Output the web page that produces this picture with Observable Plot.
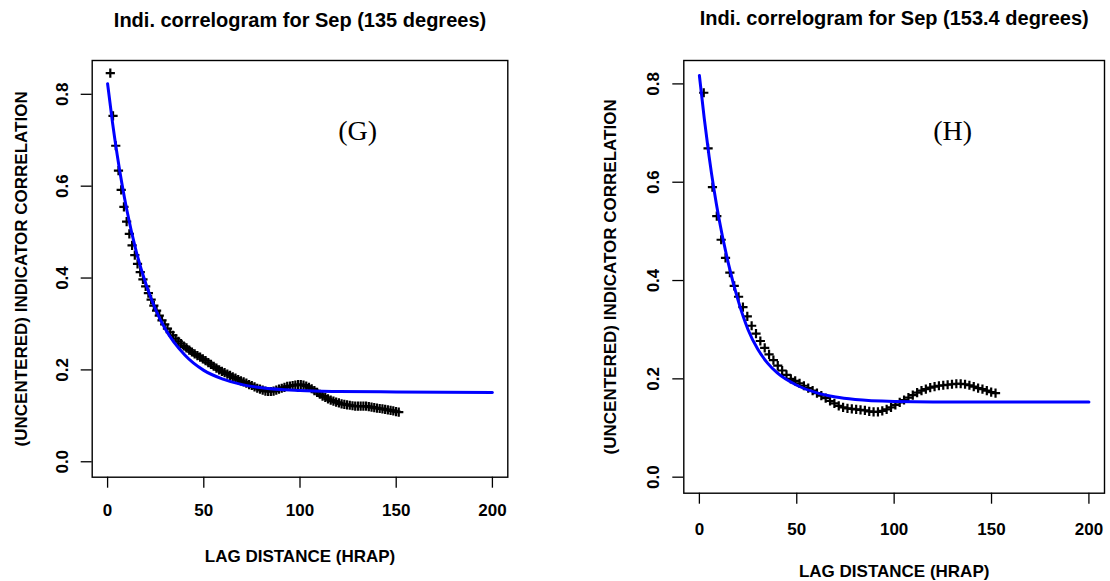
<!DOCTYPE html>
<html>
<head>
<meta charset="utf-8">
<script src="https://cdn.jsdelivr.net/npm/d3@7"></script>
<script src="https://cdn.jsdelivr.net/npm/@observablehq/plot@0.6"></script>
<style>
  html, body { margin: 0; padding: 0; background: #fff; }
  #wrap { position: relative; width: 1110px; height: 581px; }
  #left, #right { position: absolute; top: 0; }
  #left { left: 0; }
  #right { left: 555px; }
</style>
</head>
<body>
<div id="wrap"><div id="left"></div><div id="right"></div></div>
<script>
// ---------- Data ----------
const titleG = "Indi. correlogram for Sep (135 degrees)";
const titleH = "Indi. correlogram for Sep (153.4 degrees)";
const xLabel = "LAG DISTANCE (HRAP)";
const yLabel = "(UNCENTERED) INDICATOR CORRELATION";
const xTicks = [0, 50, 100, 150, 200];
const yTicks = [0.0, 0.2, 0.4, 0.6, 0.8];

// Panel G (135 degrees): empirical points
const lagG = [1.41,2.83,4.24,5.66,7.07,8.49,9.90,11.31,12.73,14.14,15.56,16.97,18.38,19.80,21.21,22.63,24.04,25.46,26.87,28.28,
  29.70,31.11,32.53,33.94,35.36,36.77,38.18,39.60,41.01,42.43,43.84,45.25,46.67,48.08,49.50,50.91,52.33,53.74,55.15,56.57,
  57.98,59.40,60.81,62.23,63.64,65.05,66.47,67.88,69.30,70.71,72.12,73.54,74.95,76.37,77.78,79.20,80.61,82.02,83.44,84.85,
  86.27,87.68,89.10,90.51,91.92,93.34,94.75,96.17,97.58,99.00,100.41,101.82,103.24,104.65,106.07,107.48,108.89,110.31,111.72,113.14,
  114.55,115.97,117.38,118.79,120.21,121.62,123.04,124.45,125.87,127.28,128.69,130.11,131.52,132.94,134.35,135.76,137.18,138.59,140.01,141.42,
  142.84,144.25,145.66,147.08,148.49,149.91,151.32];
const corrG = [0.846,0.753,0.688,0.634,0.592,0.555,0.523,0.496,0.471,0.450,0.431,0.413,0.397,0.382,0.367,0.353,0.340,0.329,0.318,0.308,
  0.299,0.290,0.282,0.275,0.268,0.262,0.257,0.252,0.248,0.243,0.239,0.235,0.231,0.228,0.224,0.220,0.216,0.212,0.208,0.204,
  0.200,0.197,0.194,0.191,0.188,0.185,0.182,0.179,0.176,0.174,0.171,0.168,0.166,0.163,0.160,0.158,0.156,0.154,0.153,0.153,
  0.154,0.156,0.158,0.160,0.162,0.164,0.165,0.166,0.167,0.168,0.168,0.167,0.165,0.162,0.159,0.155,0.151,0.147,0.143,0.140,
  0.137,0.134,0.132,0.130,0.128,0.126,0.125,0.124,0.123,0.122,0.121,0.121,0.121,0.121,0.121,0.120,0.119,0.118,0.117,0.116,
  0.115,0.114,0.113,0.112,0.111,0.109,0.108];
// Panel G fitted model (blue line)
const fitLagG = [0, 2.5, 5, 7.5, 10, 15, 20, 25, 30, 40, 50, 60, 70, 80, 100, 120, 150, 200];
const fitG    = [0.823, 0.740, 0.668, 0.604, 0.548, 0.456, 0.386, 0.331, 0.289, 0.233, 0.199, 0.180, 0.168, 0.161, 0.155, 0.153, 0.152, 0.151];

// Panel H (153.4 degrees): empirical points
const lagH = [2.24,4.47,6.71,8.94,11.18,13.42,15.65,17.89,20.12,22.36,24.60,26.83,29.07,31.30,33.54,35.78,38.01,40.25,42.49,44.72,
  46.96,49.19,51.43,53.67,55.90,58.14,60.37,62.61,64.85,67.08,69.32,71.55,73.79,76.03,78.26,80.50,82.73,84.97,87.21,89.44,
  91.68,93.91,96.15,98.39,100.62,102.86,105.09,107.33,109.57,111.80,114.04,116.27,118.51,120.75,122.98,125.22,127.46,129.69,131.93,134.16,
  136.40,138.64,140.87,143.11,145.34,147.58,149.82,152.05];
const corrH = [0.782,0.669,0.590,0.531,0.483,0.446,0.416,0.389,0.367,0.346,0.327,0.308,0.292,0.277,0.263,0.250,0.238,0.227,0.217,0.208,
  0.200,0.196,0.191,0.186,0.181,0.176,0.171,0.166,0.161,0.155,0.150,0.145,0.142,0.140,0.139,0.138,0.137,0.136,0.134,0.133,
  0.133,0.135,0.138,0.142,0.147,0.152,0.157,0.162,0.167,0.172,0.176,0.179,0.182,0.184,0.186,0.187,0.188,0.189,0.190,0.190,
  0.189,0.187,0.184,0.181,0.179,0.176,0.173,0.171];
// Panel H fitted model (blue line)
const fitLagH = [0, 2.5, 5, 7.5, 10, 15, 20, 25, 30, 35, 40, 50, 60, 70, 80, 100, 120, 150, 200];
const fitH    = [0.817, 0.730, 0.652, 0.585, 0.527, 0.433, 0.358, 0.300, 0.260, 0.232, 0.212, 0.187, 0.172, 0.163, 0.158, 0.154, 0.153, 0.153, 0.153];

const tagG = "(G)", tagH = "(H)";
const tagPosG = [130, 0.72], tagPosH = [130, 0.705];

// ---------- Drawing ----------
const sans = "'Liberation Sans', Arial, Helvetica, sans-serif";
const plusSymbol = {
  draw(ctx, size) {
    const r = Math.sqrt(size / Math.PI);
    ctx.moveTo(-r, 0); ctx.lineTo(r, 0);
    ctx.moveTo(0, -r); ctx.lineTo(0, r);
  }
};

function panel(cfg) {
  const pts = cfg.lags.map((d, i) => ({lag: d, v: cfg.vals[i]}));
  const fit = cfg.fitLags.map((d, i) => ({lag: d, v: cfg.fitVals[i]}));
  return Plot.plot({
    width: 555,
    height: 581,
    marginLeft: cfg.ml, marginRight: cfg.mr, marginTop: cfg.mt, marginBottom: cfg.mb,
    style: {fontFamily: sans, fontWeight: "bold", background: "white", overflow: "visible"},
    x: {domain: [-8, 208]},
    y: {domain: cfg.ydom},
    marks: [
      Plot.frame({stroke: "black", strokeWidth: 1.4}),
      Plot.axisX({ticks: xTicks, tickSize: 11, tickPadding: cfg.xPad, tickFormat: d => String(d),
        fontSize: 17, fontWeight: "bold", label: null, strokeWidth: 1.3, fill: "black"}),
      Plot.axisY({ticks: yTicks, tickSize: 11, tickFormat: () => "", label: null, strokeWidth: 1.3}),
      Plot.text(yTicks, {y: d => d, text: d => d.toFixed(1), frameAnchor: "left", rotate: -90, dx: -30,
        fontSize: 17, fontWeight: "bold", fill: "black", textAnchor: "middle", lineAnchor: "middle"}),
      Plot.text([cfg.title], {frameAnchor: "top", dy: cfg.titleDy, fontSize: 20, fontWeight: "bold", fill: "black",
        textAnchor: "middle", lineAnchor: "middle"}),
      Plot.text([xLabel], {frameAnchor: "bottom", dy: cfg.xlabDy, fontSize: 17, fontWeight: "bold", fill: "black",
        textAnchor: "middle", lineAnchor: "middle"}),
      Plot.text([yLabel], {frameAnchor: "left", dx: cfg.ylabDx, rotate: -90, fontSize: 17, fontWeight: "bold", fill: "black",
        textAnchor: "middle", lineAnchor: "middle"}),
      Plot.dot(pts, {x: "lag", y: "v", symbol: plusSymbol, r: 4.6, stroke: "black", strokeWidth: 2.2, fill: "none"}),
      Plot.line(fit, {x: "lag", y: "v", stroke: "#0000ff", strokeWidth: 3, curve: "monotone-x"}),
      Plot.text([cfg.tag], {x: () => cfg.tagPos[0], y: () => cfg.tagPos[1], fontFamily: "'Liberation Serif', 'Times New Roman', serif",
        fontWeight: "normal", fontSize: 28, fill: "black", lineAnchor: "middle"})
    ]
  });
}

document.getElementById("left").append(panel({
  lags: lagG, vals: corrG, fitLags: fitLagG, fitVals: fitG,
  ml: 91.7, mr: 47.7, mt: 60, mb: 104.3,
  ydom: [-0.0336, 0.8736], xPad: 16, titleDy: -40, xlabDy: 79, ylabDx: -71,
  title: titleG, tag: tagG, tagPos: tagPosG
}));
document.getElementById("right").append(panel({
  lags: lagH, vals: corrH, fitLags: fitLagH, fitVals: fitH,
  ml: 128.3, mr: 6, mt: 60, mb: 88.3,
  ydom: [-0.0326, 0.8476], xPad: 19, titleDy: -42, xlabDy: 78, ylabDx: -73,
  title: titleH, tag: tagH, tagPos: tagPosH
}));
</script>
</body>
</html>
